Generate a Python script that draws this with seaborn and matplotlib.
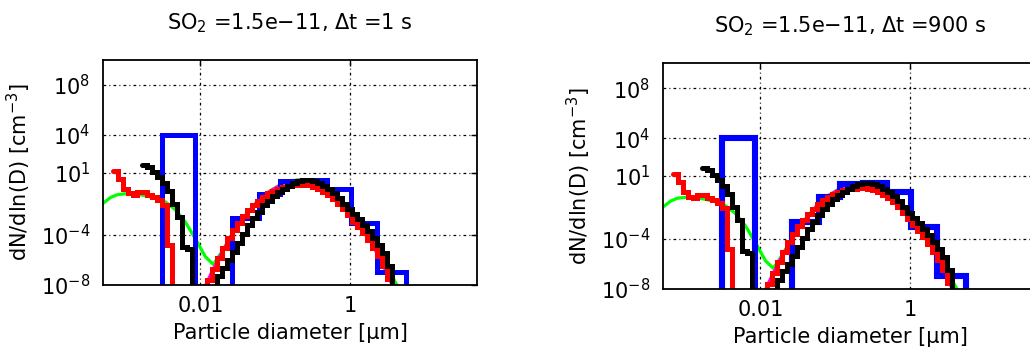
import matplotlib
matplotlib.use("Agg")
import matplotlib.pyplot as plt
import seaborn as sns
from matplotlib.ticker import FixedLocator, FixedFormatter, NullLocator, LogFormatterSciNotation

# ---------------------------------------------------------------------------
# Size distributions dN/dln(D) [cm^-3] versus particle diameter D [um]
# ---------------------------------------------------------------------------
BELOW_AXIS = 1e-12  # bins whose concentration lies below the plotted range

time_steps = ["1", "900"]          # model time step in seconds, one per panel
so2_label = "1.5e\u221211"

# fine sectional grid (bin edges, um)
fine_edges = [6.708e-4, 7.822e-4, 9.119e-4, 1.063e-3, 1.240e-3, 1.445e-3,
              1.685e-3, 1.965e-3, 2.290e-3, 2.671e-3, 3.114e-3, 3.630e-3,
              4.233e-3, 4.935e-3, 5.754e-3, 6.708e-3, 7.822e-3, 9.119e-3,
              1.063e-2, 1.240e-2, 1.445e-2, 1.685e-2, 1.965e-2, 2.290e-2,
              2.671e-2, 3.114e-2, 3.630e-2, 4.233e-2, 4.935e-2, 5.754e-2,
              6.708e-2, 7.822e-2, 9.119e-2, 0.1063, 0.1240, 0.1445,
              0.1685, 0.1965, 0.2290, 0.2671, 0.3114, 0.3630,
              0.4233, 0.4935, 0.5754, 0.6708, 0.7822, 0.9119,
              1.063, 1.240, 1.445, 1.685, 1.965, 2.290, 2.671, 3.114, 3.630]

# red: fine sections starting at the smallest bin
red_dndlnd = [13.8, 3.2, 0.51, 0.21, 0.17, 0.30, 0.30, 0.17, 0.12, 0.069,
              0.027, 1.5e-5,
              BELOW_AXIS, BELOW_AXIS, BELOW_AXIS, BELOW_AXIS, BELOW_AXIS,
              BELOW_AXIS, BELOW_AXIS,
              2.5e-8, 1.9e-7, 1.4e-6, 8.7e-6, 5.4e-5, 2.4e-4, 1.0e-3, 3.1e-3,
              9.2e-3, 0.025, 0.057, 0.12, 0.23, 0.36, 0.51, 0.74, 0.89, 0.97,
              1.07, 1.07, 0.97, 0.74, 0.51, 0.30, 0.17, 0.082, 0.033, 0.011,
              3.7e-3, 1.2e-3, 4.1e-4, 1.36e-4, 3.8e-5, 8.7e-6, 2.0e-6, 3.2e-7,
              3.0e-8]

# black: fine sections starting at the seventh edge of the grid
black_first_edge = 6
black_dndlnd = [42.0, 29.0, 11.5, 4.6, 1.55, 0.35, 0.033, 3.0e-3, 1.05e-5, 7.2e-6,
                BELOW_AXIS, BELOW_AXIS, BELOW_AXIS, BELOW_AXIS, BELOW_AXIS,
                5.0e-8, 2.5e-7, 9.7e-7, 4.2e-6, 2.2e-5, 1.13e-4, 5.9e-4, 2.1e-3,
                7.6e-3, 0.023, 0.057, 0.14, 0.30, 0.51, 0.89, 1.54, 2.22, 2.67,
                2.67, 2.22, 1.54, 0.89, 0.51, 0.25, 0.099, 0.033, 0.011, 4.4e-3,
                1.76e-3, 5.9e-4, 2.0e-4, 5.4e-5, 1.5e-5, 3.5e-6, 3.2e-7]

# blue: coarse sections
coarse_edges = [0.00311, 0.00858, 0.0267, 0.0612, 0.117, 0.236, 0.493, 1.03, 2.29, 5.58]
blue_dndlnd = [1.0e4, BELOW_AXIS, 2.1e-3, 0.20, 2.2, 2.7, 0.51, 8.5e-4, 1.07e-7]

# green: reference distribution (nucleation + accumulation modes)
green_d = [4.6e-4, 6.3e-4, 7.8e-4, 1.0e-3, 1.36e-3, 1.85e-3, 2.5e-3, 3.4e-3,
           4.6e-3, 6.3e-3, 8.6e-3, 0.0117, 0.0149, 0.0191, 0.0275, 0.0398,
           0.0575, 0.0832, 0.120, 0.174, 0.222, 0.284, 0.410, 0.593, 0.857,
           1.24, 1.79, 2.59, 3.31, 4.24, 4.93]
green_n = [0.023, 0.10, 0.17, 0.20, 0.19, 0.14, 0.089, 0.045,
           0.011, 1.1e-3, 5.0e-5, 1.8e-6, 4.5e-7, 3.9e-6, 1.6e-4, 3.6e-3,
           0.048, 0.31, 1.15, 2.3, 2.7, 2.3, 0.97, 0.25, 0.030,
           2.1e-3, 1.1e-4, 1.7e-6, 1.6e-7, 1.0e-8, 1.6e-9]

# magenta: accumulation mode alone
magenta_d = [0.0100, 0.01167, 0.0149, 0.0191, 0.0275, 0.0398, 0.0575, 0.0832,
             0.120, 0.174, 0.222, 0.284, 0.410, 0.593, 0.857, 1.24, 1.79,
             2.59, 3.31, 3.98]
magenta_n = [1.3e-9, 1.0e-8, 2.2e-7, 3.8e-6, 1.6e-4, 3.6e-3, 0.048, 0.31,
             1.15, 2.3, 2.7, 2.3, 1.07, 0.25, 0.027, 1.8e-3, 5.4e-5,
             8.1e-7, 3.6e-8, 2.8e-9]

x_limits = (5e-4, 50)
y_limits = (1e-8, 1e10)
x_ticks = [0.01, 1]
x_tick_labels = ["0.01", "1"]
y_ticks = [1e-8, 1e-4, 1e1, 1e4, 1e8]


def step_outline(edges, values, drop_in):
    """Outline of a sectional distribution: flat over each bin, dropping to
    the floor after the last bin (and before the first one if requested)."""
    xs, ys = [], []
    if drop_in:
        xs.append(edges[0])
        ys.append(BELOW_AXIS)
    for e, v in zip(edges[:-1], values):
        xs.append(e)
        ys.append(v)
    xs += [edges[-1], edges[-1]]
    ys += [values[-1], BELOW_AXIS]
    return xs, ys


sns.set_theme(style="white")
plt.rcParams["font.family"] = ["DejaVu Sans"]
plt.rcParams["mathtext.fontset"] = "dejavusans"
for key in ("text.color", "axes.labelcolor", "xtick.color", "ytick.color"):
    plt.rcParams[key] = "black"

fig = plt.figure(figsize=(10.30, 3.53), dpi=100)
ax_left = fig.add_axes([0.1000, 0.1926, 0.3631, 0.6374])
ax_right = fig.add_axes([0.6437, 0.1813, 0.3631, 0.6402])

FS = 15
for ax, dt, blue_lw in zip([ax_left, ax_right], time_steps, [3.6, 4.4]):
    ax.set_xscale("log")
    ax.set_yscale("log")

    line_kw = dict(ax=ax, estimator=None, sort=False, legend=False)
    sns.lineplot(x=green_d, y=green_n, color="#00ff00", lw=2.3, zorder=2, **line_kw)
    sns.lineplot(x=magenta_d, y=magenta_n, color="#ff00ff", lw=1.8, zorder=2.2, **line_kw)

    bx, by = step_outline(coarse_edges, blue_dndlnd, drop_in=True)
    sns.lineplot(x=bx, y=by, color="#0000ff", lw=blue_lw, zorder=3,
                 drawstyle="steps-post", solid_joinstyle="miter", **line_kw)

    rx, ry = step_outline(fine_edges, red_dndlnd, drop_in=False)
    sns.lineplot(x=rx, y=ry, color="#ff0000", lw=3.6, zorder=4,
                 drawstyle="steps-post", solid_joinstyle="miter", **line_kw)

    kx, ky = step_outline(fine_edges[black_first_edge:], black_dndlnd, drop_in=False)
    sns.lineplot(x=kx, y=ky, color="black", lw=3.6, zorder=5,
                 drawstyle="steps-post", solid_joinstyle="miter", **line_kw)

    ax.set_xlim(*x_limits)
    ax.set_ylim(*y_limits)

    ax.xaxis.set_major_locator(FixedLocator(x_ticks))
    ax.xaxis.set_major_formatter(FixedFormatter(x_tick_labels))
    ax.xaxis.set_minor_locator(NullLocator())
    ax.yaxis.set_major_locator(FixedLocator(y_ticks))
    ax.yaxis.set_major_formatter(LogFormatterSciNotation())
    ax.yaxis.set_minor_locator(NullLocator())
    ax.tick_params(which="major", direction="in", top=True, right=True,
                   length=4, width=1.0, labelsize=FS)
    ax.tick_params(axis="y", pad=9)
    ax.tick_params(axis="x", pad=8)

    ax.grid(True, color="black", lw=0.9, ls=(0, (2.2, 2.5, 0.8, 2.5)))
    ax.set_axisbelow(True)
    for sp in ax.spines.values():
        sp.set_color("black")
        sp.set_linewidth(1.3)
        sp.set_zorder(6)

    ax.set_title(f"SO$_2$ ={so2_label}, \u0394t ={dt} s", fontsize=FS, pad=22)
    ax.set_xlabel("Particle diameter [\u03bcm]", fontsize=FS, labelpad=5)
    ax.set_ylabel("dN/dln(D) [cm$^{-3}$]", fontsize=FS, labelpad=6)

fig.savefig("out.png", dpi=100)
